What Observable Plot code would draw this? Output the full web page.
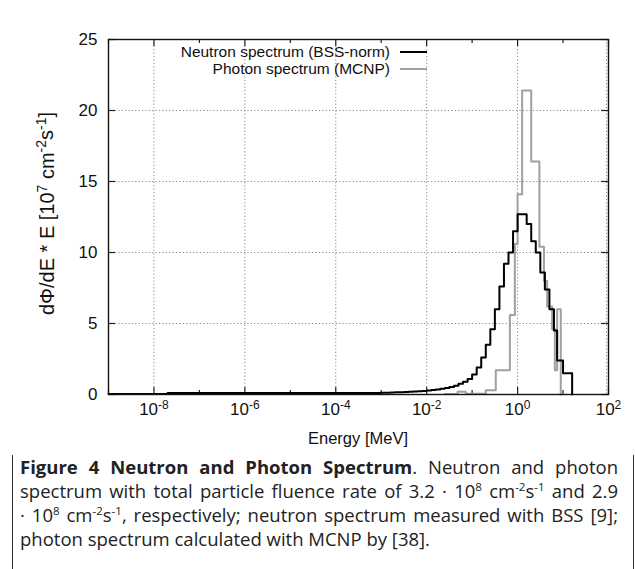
<!DOCTYPE html>
<html><head><meta charset="utf-8">
<script src="https://cdn.jsdelivr.net/npm/d3@7"></script>
<script src="https://cdn.jsdelivr.net/npm/@observablehq/plot@0.6"></script>
<style>
html,body{margin:0;padding:0;width:635px;height:569px;overflow:hidden;background:#fff;}
#frame{position:absolute;left:12px;top:11px;width:622px;height:700px;border:1.6px solid #333;border-radius:13px;box-sizing:border-box;}
#chart{position:absolute;left:0;top:0;}
#caption{position:absolute;left:20px;top:455px;width:598px;font-family:"Open Sans",sans-serif;font-size:18.5px;line-height:24px;color:#222;}
#caption .ln{white-space:nowrap;text-align:justify;text-align-last:justify;}
#caption .ln.last{text-align:left;text-align-last:left;}
#caption sup{font-size:11.5px;line-height:0;vertical-align:7px;}
</style></head><body>
<div id="frame"></div>
<div id="chart"></div>
<div id="caption">
<div class="ln"><b>Figure 4 Neutron and Photon Spectrum</b>. Neutron and photon</div>
<div class="ln">spectrum with total particle fluence rate of 3.2 · 10<sup>8</sup> cm<sup>-2</sup>s<sup>-1</sup> and 2.9</div>
<div class="ln">· 10<sup>8</sup> cm<sup>-2</sup>s<sup>-1</sup>, respectively; neutron spectrum measured with BSS [9];</div>
<div class="ln last">photon spectrum calculated with MCNP by [38].</div>
</div>
<script>
// Neutron spectrum (BSS-norm): bin edges as log10(E/MeV), value per bin [1e7 cm^-2 s^-1]
const neutronLogE = [-9, -7.7, -5, -4, -3.0, -2.9, -2.8, -2.7, -2.6, -2.5, -2.4, -2.3, -2.2, -2.1,
  -2.0, -1.9, -1.8, -1.7, -1.6, -1.5, -1.4, -1.3, -1.2, -1.1, -1.0, -0.9, -0.8, -0.7, -0.6, -0.5,
  -0.4, -0.3, -0.2, -0.1, 0.0, 0.1, 0.2, 0.3, 0.4, 0.5, 0.6, 0.7, 0.8, 0.87, 1.0, 1.2];
const neutronValues = [0.03, 0.1, 0.1, 0.11, 0.12, 0.13, 0.14, 0.15, 0.16, 0.17, 0.19, 0.21, 0.23, 0.25,
  0.28, 0.31, 0.35, 0.4, 0.46, 0.53, 0.62, 0.75, 0.9, 1.1, 1.4, 1.9, 2.6, 3.5, 4.6, 6.0,
  7.6, 9.2, 10.0, 11.5, 12.7, 12.7, 12.0, 10.8, 10.0, 8.6, 7.4, 6.0, 4.5, 2.4, 1.5];
// Photon spectrum (MCNP)
const photonLogE = [-1.6, -1.32, -1.14, -0.7, -0.48, -0.17, -0.06, 0.0, 0.1, 0.3, 0.48, 0.58, 0.65, 0.76, 0.82, 0.87, 0.95];
const photonValues = [0.03, 0.2, 0.05, 0.3, 1.7, 5.6, 10.6, 14.1, 21.4, 16.4, 10.4, 8.0, 6.2, 4.6, 1.7, 6.0];

const xMajor = [1e-8, 1e-6, 1e-4, 1e-2, 1e0, 1e2];
const xMinor = [1e-9, 1e-7, 1e-5, 1e-3, 1e-1, 1e1];
const yTicks = [0, 5, 10, 15, 20, 25];
const xTickLabels = ["10^-8", "10^-6", "10^-4", "10^-2", "10^0", "10^2"];

function steps(edges, values) {
  const pts = values.map((v, i) => ({E: 10 ** edges[i], v}));
  pts.push({E: 10 ** edges[edges.length - 1], v: values[values.length - 1]});
  pts.push({E: 10 ** edges[edges.length - 1], v: 0});
  return pts;
}
const neutron = steps(neutronLogE, neutronValues);
const photon = steps(photonLogE, photonValues);

const W = 635, H = 455, mL = 108, mR = 27, mT = 39, mB = 61;
const plotW = W - mL - mR, plotH = H - mT - mB;
const font = "'Liberation Sans', Arial, sans-serif";

const chart = Plot.plot({
  width: W, height: H,
  marginLeft: mL, marginRight: mR, marginTop: mT, marginBottom: mB,
  style: {fontFamily: font, fontSize: "16.5px", color: "#111", background: "white"},
  x: {type: "log", domain: [1e-9, 1e2]},
  y: {domain: [0, 25]},
  marks: [
    Plot.ruleX(xMajor.slice(0, 5), {stroke: "#888", strokeDasharray: "1.2,2.2", strokeWidth: 1}),
    Plot.ruleY([5, 10, 15, 20], {stroke: "#888", strokeDasharray: "1.2,2.2", strokeWidth: 1}),
    Plot.ruleX([1e2], {stroke: "#888", strokeDasharray: "1.2,2.2", strokeWidth: 1, dx: -2}),
    // inward ticks on all four sides
    Plot.ruleX(xMajor, {stroke: "#222", strokeWidth: 1.2, insetTop: plotH - 7}),
    Plot.ruleX(xMajor, {stroke: "#222", strokeWidth: 1.2, insetBottom: plotH - 7}),
    Plot.ruleX(xMinor, {stroke: "#222", strokeWidth: 1.2, insetTop: plotH - 4}),
    Plot.ruleX(xMinor, {stroke: "#222", strokeWidth: 1.2, insetBottom: plotH - 4}),
    Plot.ruleY(yTicks, {stroke: "#222", strokeWidth: 1.2, insetRight: plotW - 7}),
    Plot.ruleY(yTicks, {stroke: "#222", strokeWidth: 1.2, insetLeft: plotW - 7}),
    Plot.line(photon, {x: "E", y: "v", curve: "step-after", stroke: "#a0a0a0", strokeWidth: 2}),
    Plot.line(neutron, {x: "E", y: "v", curve: "step-after", stroke: "#000", strokeWidth: 2}),
    Plot.axisX(xMajor, {tickSize: 0, tickPadding: 8, label: null, stroke: "none", fontSize: 17,
      tickFormat: (d) => xTickLabels[xMajor.indexOf(d)]}),
    Plot.axisY(yTicks, {tickSize: 0, tickPadding: 11, label: null, stroke: "none", fontSize: 17}),
    Plot.frame({stroke: "#111", strokeWidth: 1.4})
  ]
});
document.getElementById("chart").appendChild(chart);

const svg = d3.select(chart);
// superscripts in x tick labels
svg.selectAll("g[aria-label='x-axis tick label'] text").each(function () {
  const t = d3.select(this);
  const [base, exp] = t.text().split("^");
  t.text("");
  t.append("tspan").text(base);
  t.append("tspan").attr("dy", "-0.45em").attr("font-size", "12px").text(exp);
});
// y-axis label
const yl = svg.append("text")
  .attr("transform", `translate(49,${mT + plotH / 2 - 3}) rotate(-90)`)
  .attr("text-anchor", "middle").attr("dominant-baseline", "middle")
  .attr("font-family", font).attr("font-size", "20px").attr("fill", "#111");
const parts = [["dΦ/dE * E [10", 0], ["7", 1], [" cm", -1], ["-2", 1], ["s", -1], ["-1", 1], ["]", -1]];
parts.forEach(([txt, lvl]) => {
  const ts = yl.append("tspan").text(txt);
  if (lvl === 1) ts.attr("dy", "-0.45em").attr("font-size", "14px");
  if (lvl === -1) ts.attr("dy", "0.3em");
});
// x-axis label
svg.append("text").attr("x", mL + plotW / 2).attr("y", 444)
  .attr("text-anchor", "middle").attr("font-family", font).attr("font-size", "16.5px")
  .attr("fill", "#111").text("Energy [MeV]");
// legend
const leg = [["Neutron spectrum (BSS-norm)", "#000", 52], ["Photon spectrum (MCNP)", "#a0a0a0", 69]];
leg.forEach(([label, color, y]) => {
  svg.append("text").attr("x", 390).attr("y", y).attr("dy", "0.35em")
    .attr("text-anchor", "end").attr("font-family", font).attr("font-size", "15.5px")
    .attr("fill", "#111").text(label);
  svg.append("line").attr("x1", 400).attr("x2", 427).attr("y1", y).attr("y2", y)
    .attr("stroke", color).attr("stroke-width", 2);
});
</script>
</body></html>
